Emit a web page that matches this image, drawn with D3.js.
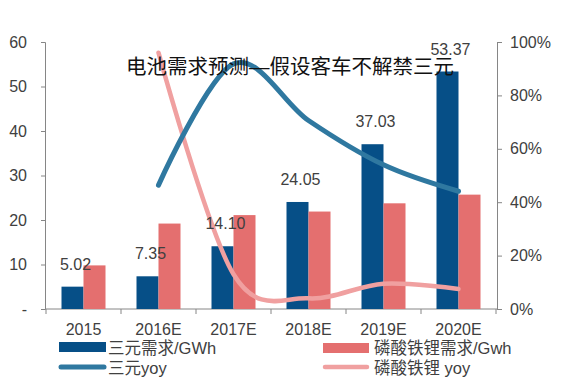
<!DOCTYPE html>
<html>
<head>
<meta charset="utf-8">
<script src="https://cdn.jsdelivr.net/npm/d3@7"></script>
<style>
  body { margin: 0; background: #fff; }
  text { font-family: "Liberation Sans", Arial, "Noto Sans CJK SC", sans-serif; fill: #404040; }
  .cjk { font-family: "Liberation Sans", "Noto Sans CJK SC", sans-serif; }
  .axis path, .axis line { stroke: #868686; }
</style>
</head>
<body>
<div id="chart"></div>
<script>
const categories = ["2015", "2016E", "2017E", "2018E", "2019E", "2020E"]
const ternaryDemand = [5.02, 7.35, 14.10, 24.05, 37.03, 53.37]
const lfpDemand = [9.8, 19.2, 21.1, 21.9, 23.75, 25.7]
const ternaryYoy = [null, 46.4, 91.8, 70.6, 54.0, 44.1]
const lfpYoy = [null, 96, 13, 4, 9.5, 7.5]
const leftTicks = [0, 10, 20, 30, 40, 50, 60]
const rightTicks = [0, 20, 40, 60, 80, 100]

const W = 569, H = 388
const plot = { left: 46, right: 496, top: 42, bottom: 309 }
const blue = "#064f87", red = "#e46f6f", blueLine = "#2f78a0", pinkLine = "#f0a0a0"

const svg = d3.select("#chart").append("svg")
  .attr("width", W).attr("height", H)

const x = d3.scaleBand().domain(categories).range([plot.left, plot.right])
const xs = d3.scaleBand().domain(["t", "l"]).range([0, 44])
const off = (x.bandwidth() - 44) / 2
const yL = d3.scaleLinear().domain([0, 60]).range([plot.bottom, plot.top])
const yR = d3.scaleLinear().domain([0, 100]).range([plot.bottom, plot.top])

// axes
svg.append("g").attr("class", "axis")
  .attr("transform", `translate(${plot.left - 1},0)`)
  .call(d3.axisLeft(yL).tickValues(leftTicks).tickSize(4).tickPadding(14)
    .tickFormat(d => d === 0 ? "-" : d))
svg.append("g").attr("class", "axis")
  .attr("transform", `translate(${plot.right + 1},0)`)
  .call(d3.axisRight(yR).tickValues(rightTicks).tickSize(5).tickPadding(8)
    .tickFormat(d => d + "%"))
svg.append("line").attr("x1", plot.left - 1).attr("x2", plot.right + 1)
  .attr("y1", plot.bottom).attr("y2", plot.bottom).attr("stroke", "#868686")
// category boundary ticks
svg.selectAll(".bt").data(categories.concat(["end"])).enter().append("line")
  .attr("x1", (d, i) => plot.left + i * x.bandwidth())
  .attr("x2", (d, i) => plot.left + i * x.bandwidth())
  .attr("y1", plot.bottom).attr("y2", plot.bottom + 5).attr("stroke", "#868686")
svg.selectAll(".xl").data(categories).enter().append("text")
  .attr("x", d => x(d) + x.bandwidth() / 2).attr("y", 335)
  .attr("text-anchor", "middle").style("font-size", "16px").text(d => d)
svg.selectAll(".axis text").style("font-size", "16px").style("fill", "#404040")

// bars
svg.selectAll(".bt1").data(ternaryDemand).enter().append("rect")
  .attr("x", (d, i) => x(categories[i]) + off + xs("t"))
  .attr("y", d => yL(d)).attr("width", xs.bandwidth())
  .attr("height", d => plot.bottom - yL(d)).attr("fill", blue)
svg.selectAll(".bt2").data(lfpDemand).enter().append("rect")
  .attr("x", (d, i) => x(categories[i]) + off + xs("l"))
  .attr("y", d => yL(d)).attr("width", xs.bandwidth())
  .attr("height", d => plot.bottom - yL(d)).attr("fill", red)

// yoy lines
const line = d3.line()
  .x(d => x(d.c) + x.bandwidth() / 2)
  .y(d => yR(d.v))
  .curve(d3.curveCatmullRom.alpha(0))
const ty = categories.map((c, i) => ({ c, v: ternaryYoy[i] })).filter(d => d.v != null)
const ly = categories.map((c, i) => ({ c, v: lfpYoy[i] })).filter(d => d.v != null)
svg.append("path").datum(ly).attr("d", line).attr("fill", "none")
  .attr("stroke", pinkLine).attr("stroke-width", 4.5).attr("stroke-linecap", "round")
svg.append("path").datum(ty).attr("d", line).attr("fill", "none")
  .attr("stroke", blueLine).attr("stroke-width", 5).attr("stroke-linecap", "round")

// data labels
svg.selectAll(".dl").data(ternaryDemand).enter().append("text")
  .attr("x", (d, i) => x(categories[i]) + off + xs("t") + xs.bandwidth() / 2 + 3)
  .attr("y", d => yL(d) - 17)
  .attr("text-anchor", "middle").style("font-size", "16px")
  .text(d => d.toFixed(2))

// title
svg.append("text").attr("class", "cjk")
  .attr("x", 290).attr("y", 74).attr("text-anchor", "middle")
  .style("font-size", "20.5px").style("fill", "#111")
  .text("电池需求预测—假设客车不解禁三元")

// legend
const lg = svg.append("g")
lg.append("rect").attr("x", 59).attr("y", 342).attr("width", 47).attr("height", 10).attr("fill", blue)
lg.append("text").attr("class", "cjk").attr("x", 108).attr("y", 354).style("font-size", "16.5px").text("三元需求/GWh")
lg.append("line").attr("x1", 61).attr("x2", 104).attr("y1", 367).attr("y2", 367)
  .attr("stroke", blueLine).attr("stroke-width", 5).attr("stroke-linecap", "round")
lg.append("text").attr("class", "cjk").attr("x", 108).attr("y", 374).style("font-size", "16.5px").text("三元yoy")
lg.append("rect").attr("x", 323).attr("y", 343).attr("width", 46).attr("height", 10).attr("fill", red)
lg.append("text").attr("class", "cjk").attr("x", 374).attr("y", 354).style("font-size", "16.5px").text("磷酸铁锂需求/Gwh")
lg.append("line").attr("x1", 325).attr("x2", 367).attr("y1", 367).attr("y2", 367)
  .attr("stroke", pinkLine).attr("stroke-width", 4.5).attr("stroke-linecap", "round")
lg.append("text").attr("class", "cjk").attr("x", 374).attr("y", 374).style("font-size", "16.5px").text("磷酸铁锂 yoy")
</script>
</body>
</html>
